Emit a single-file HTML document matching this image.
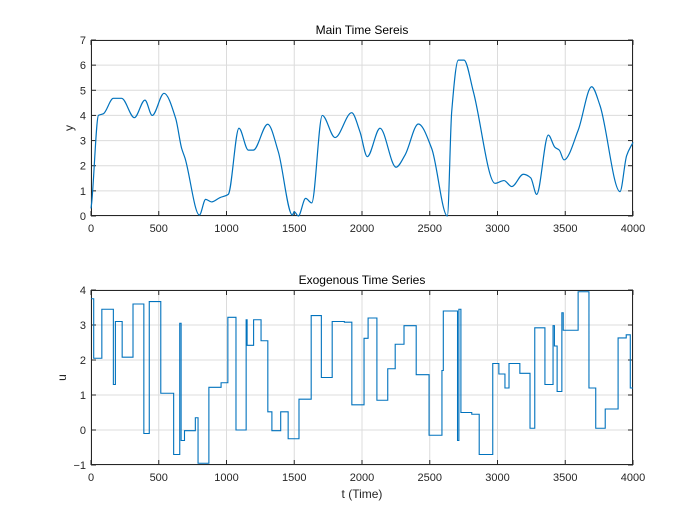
<!DOCTYPE html>
<html><head><meta charset="utf-8"><style>
html,body{margin:0;padding:0;background:#fff;}
svg{display:block;font-family:"Liberation Sans","Noto Sans CJK JP",sans-serif;}
</style></head><body>
<svg id="fig" width="700" height="525" viewBox="0 0 700 525"></svg>
<script>
// Main series (t, y)
const mainT = [0,5,55,92,165,226,320,398,452,539,625,669,694,800,846,890,951,1013,1092,1161,1198,1304,1382,1486,1500,1530,1584,1629,1707,1801,1924,1985,2039,2133,2251,2318,2416,2514,2630,2662,2711,2753,2822,2982,3048,3105,3191,3245,3289,3375,3424,3456,3491,3596,3695,3756,3904,3953,4000];
const mainY = [0.3,0.52,4.0,4.07,4.68,4.68,3.91,4.61,4.0,4.88,3.88,2.69,2.3,0.04,0.66,0.56,0.73,0.86,3.49,2.62,2.62,3.65,2.56,0.04,0.17,0.0,0.7,0.52,4.0,3.12,4.11,3.35,2.36,3.49,1.94,2.43,3.66,2.69,0.0,4.15,6.2,6.2,4.94,1.3,1.41,1.17,1.66,1.52,0.86,3.22,2.73,2.62,2.23,3.42,5.14,4.4,0.97,2.4,2.93];
// Exogenous step series: change times and levels
const exoT = [0,20,80,165,180,230,310,390,430,515,610,655,665,670,690,770,790,870,960,1010,1070,1145,1152,1200,1255,1305,1335,1400,1455,1535,1625,1700,1780,1870,1925,2015,2045,2110,2190,2245,2310,2400,2495,2590,2600,2695,2705,2715,2730,2810,2865,2965,3010,3055,3085,3165,3240,3275,3350,3410,3420,3440,3475,3485,3595,3675,3725,3795,3890,3950,3980,4000];
const exoU = [3.75,2.05,3.45,1.3,3.1,2.08,3.6,-0.1,3.67,1.05,-0.7,3.05,-0.3,-0.3,-0.02,0.35,-0.95,1.22,1.35,3.22,0.0,3.15,2.42,3.15,2.55,0.52,-0.02,0.52,-0.25,0.88,3.27,1.5,3.1,3.08,0.72,2.62,3.2,0.85,1.75,2.45,2.98,1.58,-0.15,1.7,3.4,3.4,-0.3,3.45,0.5,0.45,-0.7,1.9,1.6,1.2,1.9,1.62,0.05,2.92,1.3,2.98,2.4,1.1,3.35,2.85,3.95,1.2,0.05,0.6,2.63,2.72,1.2,1.2];
const xTicks = [0,500,1000,1500,2000,2500,3000,3500,4000];
const yTicksTop = [0,1,2,3,4,5,6,7];
const yTicksBot = [-1,0,1,2,3,4];

const NS="http://www.w3.org/2000/svg";
const svg=document.getElementById('fig');
function mk(tag,attrs,parent){const e=document.createElementNS(NS,tag);for(const k in attrs)e.setAttribute(k,attrs[k]);(parent||svg).appendChild(e);return e;}
const X0=91,X1=633;
function sx(t){return X0+(t-0)/(4000)*(X1-X0);}

function axes(name,top,bot,ymin,ymax,yticks,title,ylab,ylabX){
  const g=mk('g',{});
  
  
  const sy=v=>bot-(v-ymin)/(ymax-ymin)*(bot-top);
  mk('rect',{x:X0,y:top,width:X1-X0,height:bot-top,fill:'#fff'},g);
  xTicks.forEach(t=>{
    mk('line',{x1:sx(t),x2:sx(t),y1:top,y2:bot,stroke:'#dcdcdc','stroke-width':1},g);
    mk('line',{x1:sx(t),x2:sx(t),y1:bot,y2:bot-5,stroke:'#262626'},g);
    mk('line',{x1:sx(t),x2:sx(t),y1:top,y2:top+5,stroke:'#262626'},g);
    const tx=mk('text',{x:sx(t),y:bot+16,'text-anchor':'middle','font-size':11,fill:'#262626'},g);
    tx.textContent=t;
    
    
  });
  yticks.forEach(v=>{
    mk('line',{x1:X0,x2:X1,y1:sy(v),y2:sy(v),stroke:'#dcdcdc','stroke-width':1},g);
    mk('line',{x1:X0,x2:X0+5,y1:sy(v),y2:sy(v),stroke:'#262626'},g);
    mk('line',{x1:X1,x2:X1-5,y1:sy(v),y2:sy(v),stroke:'#262626'},g);
    const tx=mk('text',{x:X0-5,y:sy(v)+4,'text-anchor':'end','font-size':11,fill:'#262626'},g);
    tx.textContent=v<0?'\u22121':v;
    
    
  });
  mk('rect',{x:X0+0.5,y:top+0.5,width:X1-X0-1,height:bot-top-1,fill:'none',stroke:'#262626','stroke-width':1},g);
  const tt=mk('text',{x:(X0+X1)/2,y:top-6,'text-anchor':'middle','font-size':12,fill:'#000'},g);
  tt.textContent=title;
  
  
  const yl=mk('text',{x:ylabX,y:(top+bot)/2,'text-anchor':'middle','font-size':12,fill:'#262626',transform:`rotate(-90 ${ylabX} ${(top+bot)/2})`},g);
  yl.textContent=ylab;
  
  
  return {g,sy};
}

// top: monotone cubic through data points
const A=axes('main-series-axes',40,216,0,7,yTicksTop,'Main Time Sereis','y',73);
{
  const n=mainT.length;
  const xs=mainT.map(sx), ys=mainY.map(A.sy);
  const dl=[],m=new Array(n);
  for(let i=0;i<n-1;i++)dl.push((ys[i+1]-ys[i])/(xs[i+1]-xs[i]));
  m[0]=dl[0];m[n-1]=dl[n-2];
  for(let i=1;i<n-1;i++){
    if(dl[i-1]*dl[i]<=0)m[i]=0;
    else{const h0=xs[i]-xs[i-1],h1=xs[i+1]-xs[i];const w1=2*h1+h0,w2=h1+2*h0;m[i]=(w1+w2)/(w1/dl[i-1]+w2/dl[i]);}
  }
  let d=`M${xs[0]},${ys[0]}`;
  for(let i=0;i<n-1;i++){
    const h=(xs[i+1]-xs[i])/3;
    d+=` C${xs[i]+h},${ys[i]+m[i]*h} ${xs[i+1]-h},${ys[i+1]-m[i+1]*h} ${xs[i+1]},${ys[i+1]}`;
  }
  const ln=mk('path',{d,fill:'none',stroke:'#0072bd','stroke-width':1.2},A.g);
  
  
}
// bottom
const B=axes('exogenous-series-axes',290,465,-1,4,yTicksBot,'Exogenous Time Series','u',66);
{
  let d=`M${sx(exoT[0])},${B.sy(exoU[0])}`;
  for(let i=1;i<exoT.length;i++){
    d+=` L${sx(exoT[i])},${B.sy(exoU[i-1])} L${sx(exoT[i])},${B.sy(exoU[i])}`;
  }
  const ln=mk('path',{d,fill:'none',stroke:'#0072bd','stroke-width':1.1},B.g);
  
  
}
const xl=mk('text',{x:362,y:498,'text-anchor':'middle','font-size':12,fill:'#262626'});
xl.textContent='t (Time)';


</script>
</body></html>
